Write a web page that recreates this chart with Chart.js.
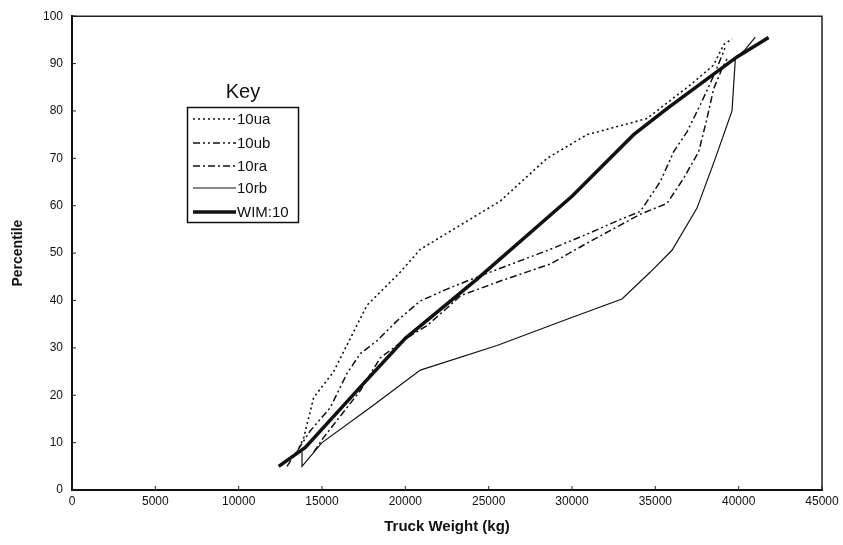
<!DOCTYPE html>
<html>
<head>
<meta charset="utf-8">
<script src="https://cdn.jsdelivr.net/npm/chart.js@4.4.0/dist/chart.umd.min.js"></script>
<style>
  html, body { margin: 0; padding: 0; background: #fff; }
  #wrap { width: 843px; height: 545px; }
</style>
</head>
<body>
<div id="wrap"><canvas id="truck_chart" width="843" height="545"></canvas></div>
<script>
// values (weight in kg, percentile)
var xTicks = [0, 5000, 10000, 15000, 20000, 25000, 30000, 35000, 40000, 45000];
var yTicks = [0, 10, 20, 30, 40, 50, 60, 70, 80, 90, 100];

var ua_w = [13500, 13900, 14500, 15700, 17700, 19700, 20900, 25700, 28500, 30900, 34500, 37100, 38500, 39100, 39600];
var ua_p = [8, 11, 19.5, 25, 39, 46, 50.8, 61, 70, 75, 78.4, 85.5, 89.7, 94, 95.2];

var ub_w = [12900, 14300, 15500, 16500, 17300, 18300, 19500, 20900, 22500, 23700, 25700, 28700, 30900, 32900, 34100, 34500, 35300, 36100, 36900, 37700, 38600, 39200];
var ub_p = [5, 12.5, 17.4, 24.6, 28.8, 31.5, 35.7, 39.9, 42.4, 44.1, 46.8, 50.8, 54, 57.1, 58.8, 60.9, 65.1, 71.4, 75.6, 81.3, 88.2, 93.5];

var ra_w = [14500, 15100, 16500, 17300, 18500, 20100, 21300, 22500, 23300, 25700, 28700, 30900, 34100, 35700, 36700, 37600, 38100, 38500, 39000, 39300];
var ra_p = [8, 11.1, 17.4, 21, 27.9, 32.1, 34.7, 38.4, 41, 44.1, 47.7, 52.1, 58.2, 60.5, 65.8, 71.4, 78.4, 84.7, 88.9, 91];

var rb_w = [13800, 13800, 15000, 17900, 20900, 25500, 29900, 33000, 34700, 36000, 37500, 38600, 39600, 39800, 40400, 41000];
var rb_p = [8, 5, 10, 17.4, 25.3, 30.5, 36.3, 40.3, 46, 50.6, 59.5, 70, 80, 91, 93, 95.6];

var wim_w = [12400, 14000, 17500, 20000, 24300, 30000, 33700, 35700, 39900, 41800];
var wim_p = [5, 9, 22.5, 32, 44.5, 62, 75, 80.5, 91.4, 95.5];

var fontFam = '"Liberation Sans", Arial, sans-serif';

function pts(w, p) {
  var out = [];
  for (var i = 0; i < w.length; i++) out.push({x: w[i], y: p[i]});
  return out;
}

function series(label, w, p, width, dash) {
  return {
    label: label,
    data: pts(w, p),
    showLine: true,
    borderColor: '#111',
    backgroundColor: '#111',
    borderWidth: width,
    borderDash: dash,
    pointRadius: 0,
    tension: 0,
    fill: false
  };
}

// key box drawn on the canvas
const keyBox = {
  id: 'keyBox',
  afterDatasetsDraw(chart) {
    const c = chart.ctx;
    c.save();
    c.fillStyle = '#111';
    c.font = '20px ' + fontFam;
    c.textAlign = 'center';
    c.textBaseline = 'middle';
    c.fillText('Key', 243, 92);
    c.strokeStyle = '#111';
    c.lineWidth = 1.5;
    c.strokeRect(187.5, 107.5, 111, 115);
    const rows = [119, 143, 166, 188, 212];
    c.font = '15px ' + fontFam;
    c.textAlign = 'left';
    chart.data.datasets.forEach(function (ds, i) {
      c.beginPath();
      c.lineWidth = ds.borderWidth;
      c.setLineDash(ds.borderDash || []);
      c.moveTo(193, rows[i]);
      c.lineTo(236, rows[i]);
      c.stroke();
      c.setLineDash([]);
      c.fillText(ds.label, 237, rows[i] + 1);
    });
    c.restore();
  },
  beforeDatasetsDraw(chart) {
    // frame and small inward ticks
    const c = chart.ctx, a = chart.chartArea;
    const xs = chart.scales.x, ys = chart.scales.y;
    c.save();
    c.strokeStyle = '#222';
    c.lineWidth = 1.5;
    c.beginPath();
    c.moveTo(a.left, a.top);
    c.lineTo(a.right, a.top);
    c.lineTo(a.right, a.bottom);
    c.stroke();
    c.lineWidth = 1;
    c.beginPath();
    yTicks.forEach(function (v) {
      const y = ys.getPixelForValue(v);
      c.moveTo(a.left, y);
      c.lineTo(a.left + 4, y);
    });
    xTicks.forEach(function (v) {
      const x = xs.getPixelForValue(v);
      c.moveTo(x, a.bottom);
      c.lineTo(x, a.bottom - 4);
    });
    c.stroke();
    c.restore();
  }
};

const ctx_truck = document.getElementById('truck_chart').getContext('2d');
const myChart_truck = new Chart(ctx_truck, {
  type: 'scatter',
  data: {
    datasets: [
      series('10ua', ua_w, ua_p, 1.6, [2, 3]),
      series('10ub', ub_w, ub_p, 1.5, [7, 3, 2, 3, 2, 3]),
      series('10ra', ra_w, ra_p, 1.5, [7, 3, 2, 3]),
      series('10rb', rb_w, rb_p, 1.2, []),
      series('WIM:10', wim_w, wim_p, 3.5, [])
    ]
  },
  options: {
    responsive: false,
    animation: false,
    layout: { padding: { left: 0, top: 14, right: 21, bottom: 0 } },
    plugins: { legend: { display: false }, tooltip: { enabled: false } },
    scales: {
      x: {
        type: 'linear',
        min: 0, max: 45000,
        afterBuildTicks: function (s) { s.ticks = xTicks.map(function (v) { return {value: v}; }); },
        afterFit: function (s) { s.height = 55; },
        grid: { display: false, drawTicks: false },
        border: { display: true, color: '#111', width: 2 },
        ticks: {
          color: '#111', padding: 4, maxRotation: 0,
          callback: function (v) { return String(v); },
          font: { family: fontFam, size: 12 }
        },
        title: {
          display: true, text: 'Truck Weight (kg)', color: '#111', padding: { top: 4, bottom: 9 },
          font: { family: fontFam, size: 15, weight: 'bold' }
        }
      },
      y: {
        type: 'linear',
        min: 0, max: 100,
        afterBuildTicks: function (s) { s.ticks = yTicks.map(function (v) { return {value: v}; }); },
        afterFit: function (s) { s.width = 72; },
        grid: { display: false, drawTicks: false },
        border: { display: true, color: '#111', width: 2 },
        ticks: {
          color: '#111', padding: 9,
          font: { family: fontFam, size: 12 }
        },
        title: {
          display: true, text: 'Percentile', color: '#111', padding: { top: 10, bottom: 0 },
          font: { family: fontFam, size: 14, weight: 'bold' }
        }
      }
    }
  },
  plugins: [keyBox]
});
</script>
</body>
</html>
